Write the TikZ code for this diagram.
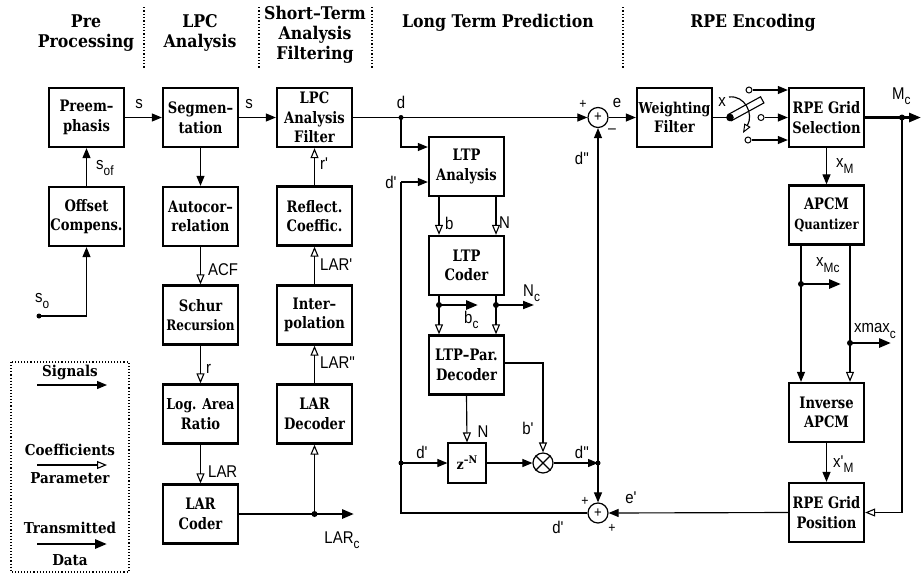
\documentclass[tikz,border=0pt]{standalone}
\usepackage{fontspec}
\setmainfont{Liberation Sans}
\newfontfamily\bx{DejaVu Serif Bold}[FakeStretch=0.9]
\newfontfamily\bxn{DejaVu Serif Bold}[FakeStretch=0.83]
\newfontfamily\lsf{Liberation Sans}[FakeStretch=0.88,Ligatures=TeXOff]
\usetikzlibrary{arrows.meta,calc}
\newcommand\lsub[1]{\raisebox{-5.5pt}{\fontsize{13.5}{13.5}\selectfont #1}}
\tikzset{
 blk/.style={draw, line width=2.3pt, minimum width=75pt, minimum height=59pt, inner sep=0pt, align=center, font=\bxn\fontsize{15.8}{19.5}\selectfont},
 sig/.style={line width=1.15pt, -{Triangle[length=10pt,width=8pt]}},
 coef/.style={line width=1.15pt, -{Triangle[open,length=10pt,width=8pt,line width=1.1pt]}},
 tx/.style={line width=2.8pt, -{Triangle[length=12pt,width=9pt]}},
 ln/.style={line width=1.15pt},
 lab/.style={font=\lsf\fontsize{17}{17}\selectfont, inner sep=0pt},
 hdr/.style={font=\bx\fontsize{17.5}{20}\selectfont, align=center, inner sep=0pt},
 lgt/.style={font=\bx\fontsize{15}{16}\selectfont, inner sep=0pt},
 sep/.style={line width=1.3pt, dotted},
 sumn/.style={circle, draw, line width=1.2pt, minimum size=20pt, inner sep=0pt, font=\lsf\fontsize{15}{15}\selectfont},
 contact/.style={circle, draw, line width=1pt, minimum size=6pt, inner sep=0pt, fill=white},
}
\begin{document}
\begin{tikzpicture}[x=1pt,y=-1pt]
\useasboundingbox (0,0) rectangle (921,579);
% headers
\node[hdr] (h1) at (86,33) {Pre\\Processing};
\node[hdr] (h2) at (200,33) {LPC\\Analysis};
\node[hdr] (h3) at (315,35) {Short–Term\\Analysis\\Filtering};
\node[hdr] (h4) at (498,23) {Long Term Prediction};
\node[hdr] (h5) at (753,23) {RPE Encoding};
\draw[sep] (144,7) -- (144,68);
\draw[sep] (259,7) -- (259,68);
\draw[sep] (372,7) -- (372,68);
\draw[sep] (623,7) -- (623,68);

% blocks
\node[blk] (pre) at (86.5,117.5) {Preem–\\phasis};
\node[blk] (off) at (86.5,216.5) {Offset\\Compens.};
\node[blk] (seg) at (200.5,117.5) {Segmen–\\tation};
\node[blk] (auto) at (200.5,216.5) {Autocor–\\relation};
\node[blk] (schur) at (200.5,315) {Schur\\{\fontsize{14.5}{19.5}\selectfont Recursion}};
\node[blk] (log) at (200.5,414) {{\fontsize{15}{19.5}\selectfont Log. Area}\\Ratio};
\node[blk] (larc) at (200.5,514) {LAR\\Coder};
\node[blk] (lpcf) at (314.5,117.5) {LPC\\Analysis\\Filter};
\node[blk] (refl) at (314.5,216) {Reflect.\\Coeffic.};
\node[blk] (interp) at (314.5,315) {Inter–\\polation};
\node[blk] (lard) at (314.5,414) {LAR\\Decoder};
\node[blk] (ltpa) at (466.5,166.5) {LTP\\Analysis};
\node[blk] (ltpc) at (466.5,265.5) {LTP\\Coder};
\node[blk] (ltpd) at (466.5,365) {LTP–Par.\\Decoder};
\node[draw, line width=1.2pt, minimum width=38pt, minimum height=40pt, inner sep=0pt, font=\bx\fontsize{14}{14}\selectfont] (z) at (467,463) {z\raisebox{6pt}{\fontsize{10.5}{10.5}\selectfont –N}};
\node[blk] (wf) at (674.5,117.5) {{\fontsize{15}{19.5}\selectfont Weighting}\\Filter};
\node[blk] (rpes) at (826.5,117.5) {RPE Grid\\Selection};
\node[blk] (apcm) at (826.5,215) {APCM\\{\fontsize{14}{19.5}\selectfont Quantizer}};
\node[blk] (iapcm) at (826.5,412.5) {Inverse\\APCM};
\node[blk] (rpep) at (826.5,512.5) {RPE Grid\\Position};

\node[sumn] (sum1) at (598,117.5) {+};
\node[sumn] (sum2) at (598,513) {+};
\node[sumn] (mult) at (543,463) {};
\draw[line width=1.1pt] (mult.north east) -- (mult.south west) (mult.north west) -- (mult.south east);

% coordinates
\coordinate (so) at (39,316);
\coordinate (larend) at (354,514);
\coordinate (lardot) at (314.5,514);
\coordinate (dd) at (401,117.5);
\coordinate (dpv) at (401,182);
\coordinate (dpz) at (401,463);
\coordinate (dpb) at (401,513);
\coordinate (bcd) at (439,305);
\coordinate (bce) at (478,305);
\coordinate (ncd) at (496,305);
\coordinate (nce) at (534,305);
\coordinate (ddm) at (598,463);
\coordinate (piv) at (730,117.5);
\coordinate (curA) at (729,97);
\coordinate (curB) at (745,95);
\coordinate (curC) at (754,114);
\coordinate (curD) at (743,133);
\coordinate (mcd) at (902,117.5);
\coordinate (mcend) at (921,117.5);
\coordinate (xmcd) at (801,284);
\coordinate (xmce) at (841,284);
\coordinate (xmxd) at (850,343);
\coordinate (xmxe) at (891,343);

% left columns
\draw[sig] (pre) -- (seg);
\draw[sig] (seg) -- (lpcf);
\draw[sig] (off) -- (pre);
\draw[sig] (so) -| (off.south);
\fill (so) circle (2.5pt);
\draw[sig] (seg) -- (auto);
\draw[coef] (auto) -- (schur);
\draw[coef] (schur) -- (log);
\draw[coef] (log) -- (larc);
\draw[tx] (larc.east) -- (larend);
\draw[coef] (lardot) -- (lard.south);
\fill (lardot) circle (3pt);
\draw[coef] (lard) -- (interp);
\draw[coef] (interp) -- (refl);
\draw[coef] (refl) -- (lpcf);

% long term prediction
\draw[sig] (lpcf.east) -- (sum1.west);
\fill (dd) circle (2.5pt);
\draw[sig] (dd) |- ([yshift=19.5pt]ltpa.west);
\draw[sig] (dpv) -- ([yshift=-15.5pt]ltpa.west);
\draw[ln] (dpv) -- (dpb) -- (sum2.west);
\draw[sig] (dpz) -- (z.west);
\fill (dpz) circle (2.5pt);
\draw[coef] ([xshift=-27.5pt]ltpa.south) -- ([xshift=-27.5pt]ltpc.north);
\draw[coef] ([xshift=29.5pt]ltpa.south) -- ([xshift=29.5pt]ltpc.north);
\draw[coef] ([xshift=-27.5pt]ltpc.south) -- ([xshift=-27.5pt]ltpd.north);
\draw[coef] ([xshift=29.5pt]ltpc.south) -- ([xshift=29.5pt]ltpd.north);
\draw[tx] (bcd) -- (bce);
\fill (bcd) circle (3pt);
\draw[line width=1.8pt, -{Triangle[length=11pt,width=8pt]}] (ncd) -- (nce);
\fill (ncd) circle (3pt);
\draw[coef] ([yshift=2pt]ltpd.east) -| (mult.north);
\draw[coef] (ltpd.south) -- (z.north);
\draw[sig] (z) -- (mult);
\draw[sig] (mult.east) -- (ddm);
\fill (ddm) circle (2.5pt);
\draw[sig] (ddm) -- (sum1.south);
\draw[sig] (ddm) -- (sum2.north);
\draw[sig] (sum1) -- (wf);
\draw[sig] (rpep.west) -- (sum2.east);

% switch
\draw[ln] (wf.east) -- (piv);
\node[draw, line width=1.1pt, fill=white, minimum width=37pt, minimum height=7pt, inner sep=0pt, rotate=28.7] (arm) at (746,108.75) {};
\fill (piv) circle (3.8pt);
\draw[ln, -{Triangle[open,length=9pt,width=7pt,line width=1pt]}] (curA) .. controls (curB) and (curC) .. (curD);
\node[contact] (c1) at (749,90) {};
\node[contact] (c2) at (761,117.5) {};
\node[contact] (c3) at (748,140) {};
\draw[sig] (c1) -- (c1 -| rpes.west);
\draw[sig] (c2) -- (c2 -| rpes.west);
\draw[sig] (c3) -- (c3 -| rpes.west);

% RPE
\draw[tx] (rpes.east) -- (mcend);
\fill (mcd) circle (3pt);
\draw[coef] (mcd) |- (rpep.east);
\draw[sig] (rpes) -- (apcm);
\draw[sig] ([xshift=-25.5pt]apcm.south) -- ([xshift=-25.5pt]iapcm.north);
\draw[coef] ([xshift=23.5pt]apcm.south) -- ([xshift=23.5pt]iapcm.north);
\draw[tx] (xmcd) -- (xmce);
\fill (xmcd) circle (3pt);
\draw[tx] (xmxd) -- (xmxe);
\fill (xmxd) circle (3pt);
\draw[sig] (iapcm) -- (rpep);

% labels
\node[lab] (ls1) at (139,104) {s};
\node[lab] (ls2) at (249,104) {s};
\node[lab, anchor=west] (lsof) at (96,168) {s\lsub{of}};
\node[lab, anchor=west] (lso) at (35,301) {s\lsub{o}};
\node[lab, anchor=west] (lacf) at (208,270) {ACF};
\node[lab, anchor=west] (lr) at (206,369) {r};
\node[lab, anchor=west] (llar) at (208,472) {LAR};
\node[lab] (llarc) at (342,540) {LAR\lsub{c}};
\node[lab, anchor=west] (llar2) at (320,363) {LAR''};
\node[lab, anchor=west] (llar1) at (320,265) {LAR'};
\node[lab, anchor=west] (lr1) at (320,164) {r'};
\node[lab] (ld) at (401,102) {d};
\node[lab] (ld1) at (391,182) {d'};
\node[lab, anchor=west] (lb) at (445,223) {b};
\node[lab, anchor=west] (lN) at (499,223) {N};
\node[lab, anchor=west] (lNc) at (523,293) {N\lsub{c}};
\node[lab, anchor=west] (lbc) at (464,320) {b\lsub{c}};
\node[lab] (lb1) at (528,428) {b'};
\node[lab] (lN2) at (483,432) {N};
\node[lab] (ld2) at (422,452) {d'};
\node[lab] (ldd2) at (582,452) {d''};
\node[lab] (ld3) at (558,527) {d'};
\node[lab] (ldd1) at (582,158) {d''};
\node[lab] (le) at (617,103) {e};
\node[lab, font=\lsf\fontsize{14}{14}\selectfont] (lp1) at (583,104) {+};
\node[lab, font=\lsf\fontsize{16}{16}\selectfont] (lm1) at (612,131) {–};
\node[lab, font=\lsf\fontsize{14}{14}\selectfont] (lp2) at (585,501) {+};
\node[lab, font=\lsf\fontsize{14}{14}\selectfont] (lp3) at (612,528) {+};
\node[lab] (le1) at (631,498) {e'};
\node[lab] (lx) at (722,102) {x};
\node[lab, anchor=west] (lMc) at (892,96) {M\lsub{c}};
\node[lab, anchor=west] (lxM) at (836,166) {x\lsub{M}};
\node[lab, anchor=west] (lxMc) at (816,265) {x\lsub{Mc}};
\node[lab, anchor=west] (lxmax) at (854,331) {xmax\lsub{c}};
\node[lab, anchor=west] (lxM1) at (833,464) {x'\lsub{M}};

% legend
\draw[line width=1.1pt, dotted] (11,362) rectangle (129,572);
\coordinate (lg1a) at (37,385); \coordinate (lg1b) at (107,385);
\coordinate (lg2a) at (37,465); \coordinate (lg2b) at (107,465);
\coordinate (lg3a) at (37,544); \coordinate (lg3b) at (107,544);
\node[lgt] (t1) at (70,372) {Signals};
\draw[sig] (lg1a) -- (lg1b);
\node[lgt] (t2) at (70,450) {Coefficients};
\draw[coef] (lg2a) -- (lg2b);
\node[lgt] (t3) at (70,478) {Parameter};
\node[lgt] (t4) at (70,528) {Transmitted};
\draw[tx] (lg3a) -- (lg3b);
\node[lgt] (t5) at (70,560) {Data};
\end{tikzpicture}
\end{document}
